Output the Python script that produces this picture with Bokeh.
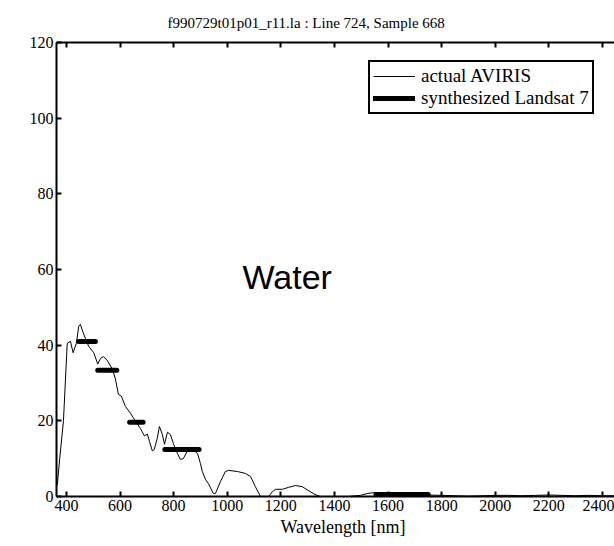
from bokeh.plotting import figure
from bokeh.models import (LinearAxis, FixedTicker, Range1d, Title, Label,
                          Legend, LegendItem, ColumnDataSource)
from bokeh.embed import file_html
from bokeh.resources import INLINE

# AVIRIS spectrum (wavelength nm, value)
wavelength = [366, 375, 389, 403, 415, 425, 437, 446, 452, 464, 483, 502, 517,
              527, 538, 552, 572, 583, 594, 605, 620, 639, 657, 676, 691, 702,
              710, 721, 728, 739, 747, 758, 766, 777, 788, 799, 814, 825, 836,
              851, 870, 889, 900, 907, 919, 930, 948, 956, 975, 993, 1005, 1038,
              1068, 1087, 1105, 1124, 1154, 1169, 1180, 1206, 1228, 1254, 1280,
              1302, 1328, 1347, 1400, 1450, 1497, 1523, 1545, 1600, 1650, 1700,
              1750, 1800, 1850, 1900, 1950, 2000, 2050, 2100, 2150, 2200, 2250,
              2300, 2350, 2400, 2450]
aviris = [3, 10, 20, 40.5, 41, 38, 40.5, 45, 45.5, 43, 39.7, 38, 35,
          36.5, 37, 36, 33.6, 31, 27, 26.5, 23.8, 22, 20, 18, 16, 16.5,
          14.5, 12, 12.5, 15.4, 18.5, 16.4, 13.8, 17, 16.4, 14, 11.4, 9.8, 10,
          12, 12.5, 11.4, 8.7, 6.6, 4.5, 3.4, 0.8, 0.8, 4, 6.6, 6.9, 6.6,
          6.1, 5.3, 2.6, 0, 0, 1.3, 1.9, 1.9, 2.4, 2.9, 2.6,
          1.6, 0.5, 0, 0, 0, 0.3, 0.8, 1.0, 1.0, 0.8, 0.6,
          0.4, 0.3, 0.2, 0.1, 0.2, 0.3, 0.3, 0.2, 0.3, 0.4, 0.3,
          0.2, 0.3, 0.2, 0.2]

# Synthesized Landsat 7 bands
band_start = [446, 517, 636, 767, 1555]
band_end = [508, 588, 686, 895, 1750]
band_value = [41, 33.4, 19.6, 12.4, 0.5]

x_ticks = [400, 600, 800, 1000, 1200, 1400, 1600, 1800, 2000, 2200, 2400]
y_ticks = [0, 20, 40, 60, 80, 100, 120]

SERIF = "Liberation Serif"

p = figure(width=614, height=546, output_backend="svg", toolbar_location=None,
           x_range=Range1d(363, 2445), y_range=Range1d(0, 120),
           x_axis_location=None, y_axis_location=None,
           min_border_left=56, min_border_right=0, min_border_top=42,
           min_border_bottom=50)
p.outline_line_color = None
p.grid.visible = False
p.background_fill_color = "white"
p.border_fill_color = "white"

def style_axis(ax, labels=True):
    ax.axis_line_width = 2
    ax.axis_line_color = "black"
    ax.major_tick_in = 5
    ax.major_tick_out = 0
    ax.major_tick_line_width = 2
    ax.major_tick_line_color = "black"
    ax.minor_tick_line_color = None
    ax.major_label_text_font = SERIF
    ax.major_label_text_font_size = "16px" if labels else "0px"
    ax.major_label_text_color = "black"
    ax.major_label_standoff = 3

bottom = LinearAxis(ticker=FixedTicker(ticks=x_ticks))
style_axis(bottom)
p.add_layout(bottom, "below")

left = LinearAxis(ticker=FixedTicker(ticks=y_ticks))
style_axis(left)
p.add_layout(left, "left")

top = LinearAxis(ticker=FixedTicker(ticks=x_ticks))
style_axis(top, labels=False)
top.major_label_text_alpha = 0
p.add_layout(top, "above")

p.add_layout(Title(text="f990729t01p01_r11.la : Line 724, Sample 668",
                   text_font=SERIF, text_font_size="15px", text_color="black",
                   text_font_style="normal", align="left", offset=111,
                   standoff=23), "above")
p.add_layout(Title(text="Wavelength [nm]", text_font=SERIF,
                   text_font_size="18px", text_font_style="normal",
                   text_color="black", align="left", offset=224, standoff=2),
             "below")

src = ColumnDataSource(dict(x=wavelength, y=aviris))
r_line = p.line("x", "y", source=src, line_color="black", line_width=1)

bsrc = ColumnDataSource(dict(x0=band_start, x1=band_end, y=band_value))
r_bands = p.segment(x0="x0", y0="y", x1="x1", y1="y", source=bsrc,
                    line_color="black", line_width=5, line_cap="round")

p.add_layout(Label(x=1057, y=57.9, text="Water", text_font="Liberation Sans",
                   text_font_size="34px", text_color="black",
                   text_baseline="alphabetic"))

legend = Legend(items=[LegendItem(label="actual AVIRIS", renderers=[r_line]),
                       LegendItem(label="synthesized Landsat 7",
                                  renderers=[r_bands])],
                location=(312, 382), label_text_font=SERIF,
                label_text_font_size="19px", label_text_color="black",
                glyph_width=42, glyph_height=18, label_height=18, spacing=0,
                padding=3, label_standoff=6, border_line_color="black",
                border_line_alpha=1, border_line_width=2,
                background_fill_alpha=1, margin=0)
p.add_layout(legend)

open("out.html", "w").write(file_html(p, INLINE))
